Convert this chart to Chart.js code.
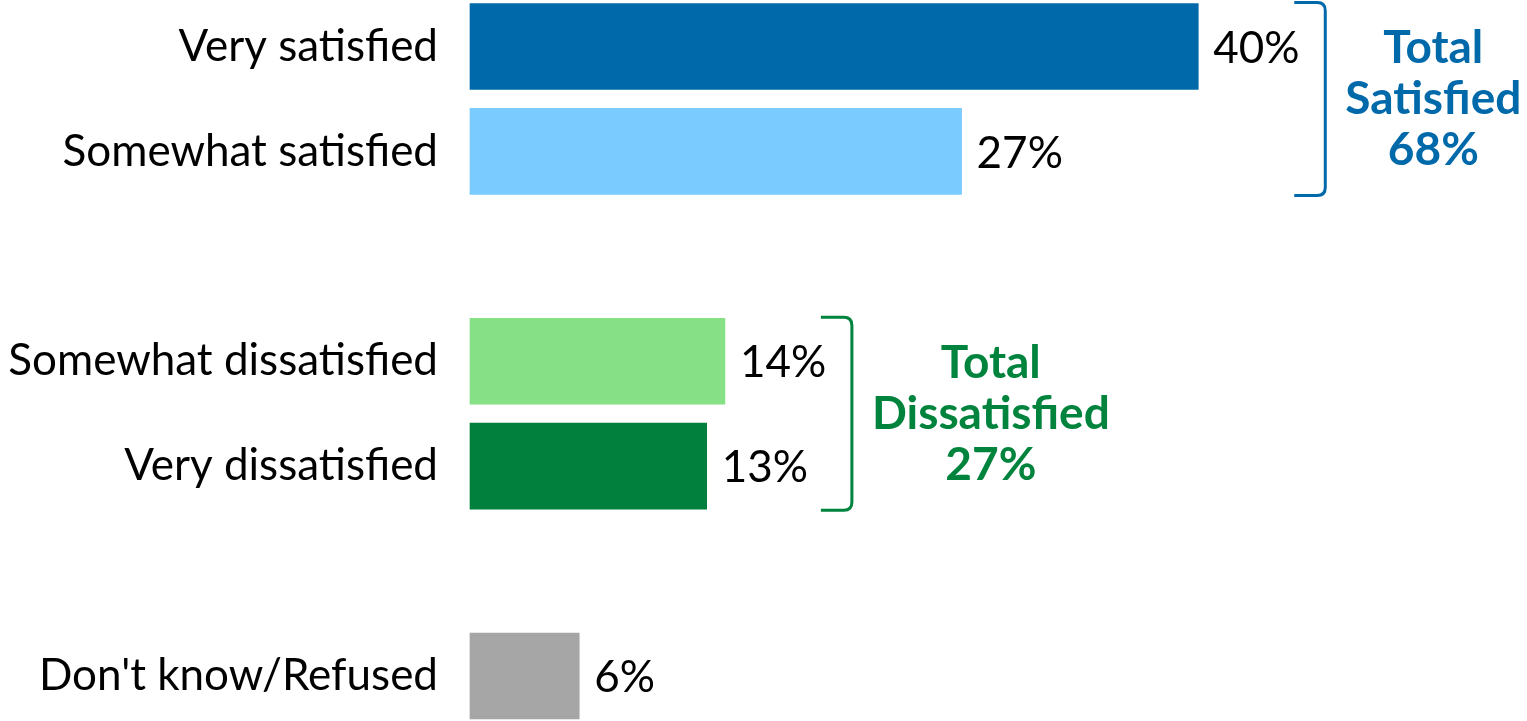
<!DOCTYPE html>
<html>
<head>
<meta charset="utf-8">
<script src="https://cdn.jsdelivr.net/npm/chart.js@4.4.1/dist/chart.umd.min.js"></script>
<style>
  html, body { margin: 0; padding: 0; background: #fff; }
  #wrap { width: 1527px; height: 721px; }
</style>
</head>
<body>
<div id="wrap"><canvas id="satChart"></canvas></div>
<script>
// categories (blank rows are the gaps between groups)
var categories = ["Very satisfied", "Somewhat satisfied", "", "Somewhat dissatisfied", "Very dissatisfied", "", "Don't know/Refused"];
var percents = [40, 27, null, 14, 13, null, 6];
var barColors = ["#0069AA", "#7ACBFF", "#ffffff", "#86E085", "#00803C", "#ffffff", "#A6A6A6"];

// bracketed totals: rows covered, label lines, colour
var groupRows = [[0, 1], [3, 4]];
var groupLabels = [["Total", "Satisfied", "68%"], ["Total", "Dissatisfied", "27%"]];
var groupColors = ["#0069AA", "#00843D"];

var FONT = "Lato";
var SIZE = 44;

// value labels + brackets, placed from the scales
var extras = {
  id: 'extras',
  afterDatasetsDraw: function(chart) {
    var ctx = chart.ctx;
    var xs = chart.scales.x, ys = chart.scales.y;
    var meta = chart.getDatasetMeta(0);
    ctx.save();
    ctx.font = SIZE + "px " + FONT;
    ctx.fillStyle = "#000";
    ctx.textBaseline = "middle";
    ctx.textAlign = "left";
    percents.forEach(function(v, i) {
      if (v == null) return;
      ctx.fillText(v + "%", xs.getPixelForValue(v) + 15, ys.getPixelForValue(i) + 2);
    });

    groupRows.forEach(function(rows, g) {
      var bars = rows.map(function(r) { return meta.data[r]; });
      var top = bars[0].y - bars[0].height / 2 - 1;
      var bot = bars[bars.length - 1].y + bars[bars.length - 1].height / 2 + 1;
      var maxV = Math.max.apply(null, rows.map(function(r) { return percents[r]; }));
      var x0 = xs.getPixelForValue(maxV) + 96;
      var x1 = x0 + 31;
      var r = 8;
      ctx.strokeStyle = groupColors[g];
      ctx.lineWidth = 3;
      ctx.beginPath();
      ctx.moveTo(x0, top);
      ctx.lineTo(x1 - r, top);
      ctx.quadraticCurveTo(x1, top, x1, top + r);
      ctx.lineTo(x1, bot - r);
      ctx.quadraticCurveTo(x1, bot, x1 - r, bot);
      ctx.lineTo(x0, bot);
      ctx.stroke();

      ctx.font = "bold 46px " + FONT;
      ctx.fillStyle = groupColors[g];
      ctx.textAlign = "center";
      var lines = groupLabels[g];
      var w = Math.max.apply(null, lines.map(function(t) { return ctx.measureText(t).width; }));
      var cx = x1 + 20 + w / 2;
      var cy = (top + bot) / 2;
      var lh = 51;
      lines.forEach(function(t, k) {
        ctx.fillText(t, cx, cy + (k - (lines.length - 1) / 2) * lh);
      });
    });
    ctx.restore();
  }
};

new Chart(document.getElementById("satChart"), {
  type: 'bar',
  data: {
    labels: categories,
    datasets: [{
      data: percents,
      backgroundColor: barColors,
      barThickness: 86,
      clip: false
    }]
  },
  options: {
    indexAxis: 'y',
    responsive: true,
    maintainAspectRatio: false,
    animation: false,
    layout: { padding: { top: 46.5, bottom: 45, left: 0, right: 1 } },
    plugins: { legend: { display: false }, tooltip: { enabled: false } },
    scales: {
      x: {
        min: 0,
        max: 58,
        display: false
      },
      y: {
        offset: false,
        border: { display: false },
        grid: { display: false, drawTicks: false },
        ticks: {
          padding: 32,
          color: "#000",
          font: { family: FONT, size: SIZE }
        },
        afterFit: function(scale) {
          scale.width = 470;
          scale.paddingTop = 0;
          scale.paddingBottom = 0;
        }
      }
    }
  },
  plugins: [extras]
});
</script>
</body>
</html>
